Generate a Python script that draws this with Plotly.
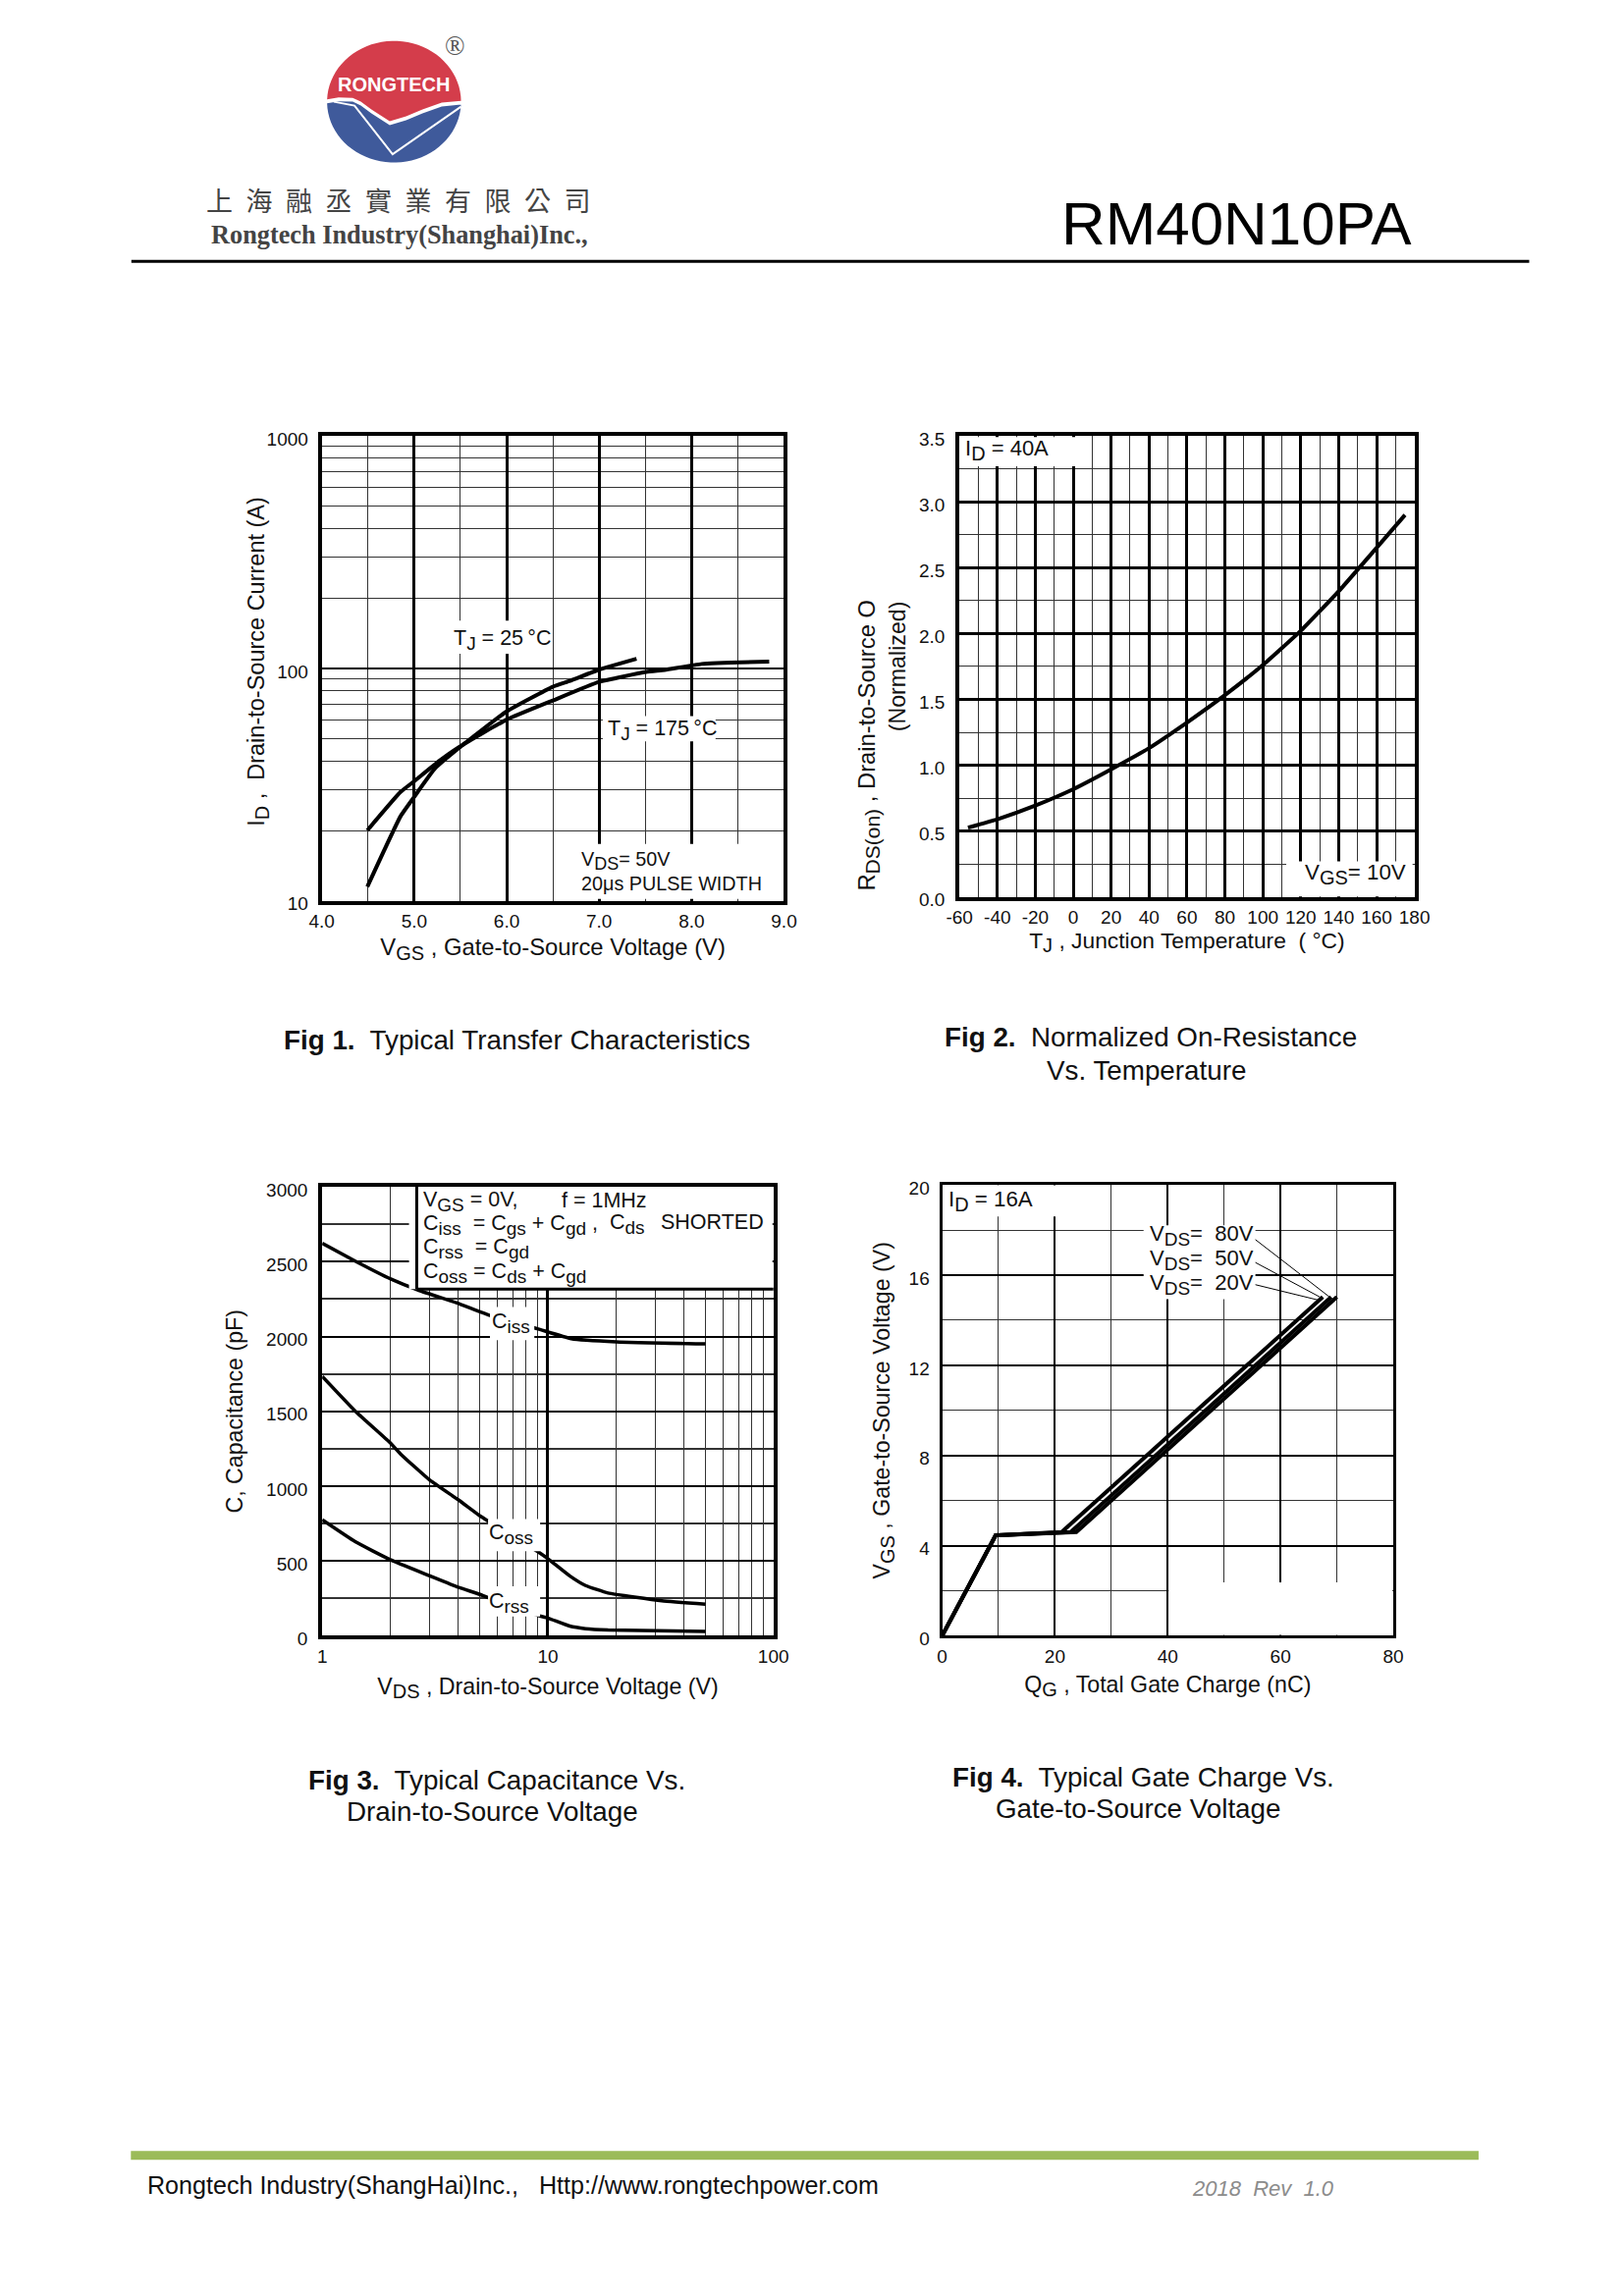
import numpy as np
import plotly.graph_objects as go

W, H = 1653, 2339
YSHIFT = -3.5
FONT = "Liberation Sans"
TEXT = "#111111"

# ---- Fig 1 data
f1_t25_x = [4.493, 4.852, 5.0, 5.222, 5.504, 6.0, 6.5, 6.684, 7.0, 7.405]
f1_t25_y = [11.5, 23.1, 28, 37, 46.1, 65.3, 83.4, 88.4, 98.7, 109.9]
f1_t175_x = [4.493, 4.852, 5.0, 5.275, 5.504, 6.0, 6.5, 7.0, 7.51, 7.71, 8.11, 8.84]
f1_t175_y = [20.1, 29.4, 32.7, 40.1, 46.4, 60.2, 72.8, 87.5, 96.5, 98.5, 104.5, 107]
f1_xticks = [4, 5, 6, 7, 8, 9]
f1_xlabels = ["4.0", "5.0", "6.0", "7.0", "8.0", "9.0"]
f1_xminor = [4.5, 5.5, 6.5, 7.5, 8.5]
f1_yticks = [10, 100, 1000]
f1_yminor = [20, 30, 40, 50, 60, 70, 80, 90, 200, 300, 400, 500, 600, 700, 800, 900]

# ---- Fig 2 data
f2_x = [-55.5, -40, -20, 0, 20, 40, 60, 80, 100, 120, 140, 160, 175]
f2_y = [0.526, 0.59, 0.694, 0.818, 0.969, 1.13, 1.324, 1.532, 1.76, 2.02, 2.32, 2.65, 2.9]
f2_xticks = [-60, -40, -20, 0, 20, 40, 60, 80, 100, 120, 140, 160, 180]
f2_xminor = [-50, -30, -10, 10, 30, 50, 70, 90, 110, 130, 150, 170]
f2_yticks = [0, 0.5, 1, 1.5, 2, 2.5, 3, 3.5]
f2_ylabels = ["0.0", "0.5", "1.0", "1.5", "2.0", "2.5", "3.0", "3.5"]
f2_yminor = [0.25, 0.75, 1.25, 1.75, 2.25, 2.75, 3.25]

# ---- Fig 3 data
f3_ciss_x = [1, 1.414, 2.01, 2.7, 3.93, 5.6, 8.98, 12.7, 20.1, 50]
f3_ciss_y = [2623, 2501, 2385, 2307, 2226, 2139, 2052, 1986, 1965, 1951]
f3_coss_x = [1, 1.403, 2.0, 2.23, 3.0, 4.0, 5.0, 5.55, 9.0, 10, 12.5, 14.7, 18.5, 32, 50]
f3_coss_y = [1733, 1500, 1290, 1214, 1040, 910, 802, 759, 564, 516, 401, 336, 286, 235, 212]
f3_crss_x = [1, 1.4, 2.0, 3.0, 4.0, 5.0, 5.55, 9.0, 10, 12.5, 14.7, 18.5, 50]
f3_crss_y = [775, 629, 509, 401, 325, 277, 249, 137, 119, 65, 48, 39, 29]
f3_xticks = [1, 10, 100]
f3_xminor = [2, 3, 4, 5, 6, 7, 8, 9, 20, 30, 40, 50, 60, 70, 80, 90]
f3_yticks = [0, 500, 1000, 1500, 2000, 2500, 3000]
f3_yminor = [250, 750, 1250, 1750, 2250, 2750]

# ---- Fig 4 data
f4_80_x = [0, 9.5, 21.2, 67.5]
f4_80_y = [0, 4.46, 4.6, 15.03]
f4_50_x = [0, 9.5, 22.8, 69]
f4_50_y = [0, 4.46, 4.6, 15.03]
f4_20_x = [0, 9.5, 23.8, 70]
f4_20_y = [0, 4.46, 4.6, 15.03]
f4_lead80_x = [54.5, 68.7]
f4_lead80_y = [17.78, 15.03]
f4_lead50_x = [54.5, 67.5]
f4_lead50_y = [16.7, 14.96]
f4_lead20_x = [54.5, 66.6]
f4_lead20_y = [15.64, 14.9]
f4_xticks = [0, 20, 40, 60, 80]
f4_xminor = [10, 30, 50, 70]
f4_yticks = [0, 4, 8, 12, 16, 20]
f4_yminor = [2, 6, 10, 14, 18]


def px(x):
    return x / W


def py(y):
    return 1 - (y - YSHIFT) / H


def pt(x, y):
    return f"{px(x):.5f},{py(y):.5f}"


def poly(points, close=True):
    s = "M " + " L ".join(pt(a, b) for a, b in points)
    return s + (" Z" if close else "")


shapes = []
annotations = []


def mask(x0, y0, x1, y1):
    shapes.append(dict(type="rect", xref="paper", yref="paper", x0=px(x0), x1=px(x1),
                       y0=py(y0), y1=py(y1), fillcolor="white", line_width=0, layer="above"))


def hline(x0, x1, y, w, color="black"):
    shapes.append(dict(type="line", xref="paper", yref="paper", x0=px(x0), x1=px(x1),
                       y0=py(y), y1=py(y), line=dict(color=color, width=w), layer="above"))


def vline(x, y0, y1, w, color="black"):
    shapes.append(dict(type="line", xref="paper", yref="paper", x0=px(x), x1=px(x),
                       y0=py(y0), y1=py(y1), line=dict(color=color, width=w), layer="above"))


def text(s, x, y, size=22.3, anchor="left", color=TEXT, family=FONT, angle=0):
    annotations.append(dict(text=s, x=px(x), y=py(y), xref="paper", yref="paper", showarrow=False,
                            xanchor=anchor, yanchor="middle", textangle=angle, borderpad=0,
                            font=dict(size=size, color=color, family=family)))


def S(s, size):
    return f'<sub><span style="font-size:{size:.1f}px">{s}</span></sub>'


def axis(domain, anchor, vals, labels, minor, major_w, minor_w, rng, title, standoff, typ="linear", lw=4,
         tfont=23.2, label_off=0, shift=0):
    d = dict(domain=domain, anchor=anchor, range=rng, type=typ, tickmode="array", tickvals=vals,
             ticktext=labels, showgrid=True, gridcolor="black", gridwidth=major_w, zeroline=False,
             showline=True, linecolor="black", linewidth=lw, mirror=True, ticks="",
             ticklabelstandoff=label_off, ticklabelshift=shift,
             tickfont=dict(size=19, family=FONT, color=TEXT),
             minor=dict(tickmode="array", tickvals=minor, showgrid=True, gridcolor="#333333",
                        gridwidth=minor_w, ticks=""),
             title=dict(text=title, font=dict(size=tfont, family=FONT, color=TEXT), standoff=standoff))
    return d


def frame(x0, x1, y0, y1, lw=4):
    return ([px(x0 + lw / 2), px(x1 - lw / 2)], [py(y1 - lw / 2), py(y0 + lw / 2)])


d1x, d1y = frame(317.5, 801, 435.5, 917.5)
d2x, d2y = frame(979, 1455, 435.5, 913.5)
d3x, d3y = frame(318, 790, 1207.5, 1673)
d4x, d4y = frame(961.5, 1432.5, 1206, 1672.5, lw=3)

layout = dict(
    width=W, height=H, autosize=False, margin=dict(l=0, r=0, t=0, b=0, pad=0),
    paper_bgcolor="white", plot_bgcolor="white", showlegend=False,
    font=dict(family=FONT, color=TEXT),
    xaxis=axis(d1x, "y", f1_xticks, f1_xlabels, f1_xminor, 2.6, 1, [4, 9],
               f"\u00a0V{S('GS', 20)} , Gate-to-Source Voltage (V)", 10, tfont=23.8),
    yaxis=axis(d1y, "x", f1_yticks, [str(v) for v in f1_yticks], f1_yminor, 2, 1, [1, 3],
               "", 0, typ="log", tfont=23.2, label_off=6, shift=3),
    xaxis2=axis(d2x, "y2", f2_xticks, [str(v) for v in f2_xticks], f2_xminor, 2.6, 1.2, [-60, 180],
                f"T{S('J', 20)} , Junction Temperature  ( °C)", 7, label_off=0, tfont=22.8),
    yaxis2=axis(d2y, "x2", f2_yticks, f2_ylabels, f2_yminor, 2.6, 1.2, [0, 3.5],
                "(Normalized)", 8, label_off=7, shift=3),
    xaxis3=axis(d3x, "y3", f3_xticks, [str(v) for v in f3_xticks], f3_xminor, 2.6, 1, [0, 2],
                f"V{S('DS', 20)} , Drain-to-Source Voltage (V)", 13, typ="log", label_off=1),
    yaxis3=axis(d3y, "x3", f3_yticks, [str(v) for v in f3_yticks], f3_yminor, 2, 1.5, [0, 3000],
                "C, Capacitance (pF)", 18, label_off=7, shift=3),
    xaxis4=axis(d4x, "y4", f4_xticks, [str(v) for v in f4_xticks], f4_xminor, 2.4, 1.2, [0, 80],
                f"Q{S('G', 20)} , Total Gate Charge (nC)", 10.5, label_off=2, lw=3),
    yaxis4=axis(d4y, "x4", f4_yticks, [str(v) for v in f4_yticks], f4_yminor, 2.4, 1.2, [0, 20],
                f"V{S('GS', 20)} , Gate-to-Source Voltage (V)", 13, label_off=6, lw=3, shift=3),
)

# ---- Logo
cx, cy, rx, ry = 394.5, 94, 69.5, 62.5
ldx, ldy = -8, -10


def arc(a0, a1, n=40):
    return [(cx + rx * np.cos(t), cy - ry * np.sin(t)) for t in np.linspace(a0, a1, n)]


wave = [(333, 101.7), (345, 99.5), (359.6, 100), (368, 104), (379, 112), (398, 124), (415, 119), (432, 112), (452, 105), (472, 103)]
wave = [(a + ldx, b + ldy) for a, b in wave]
a_l = np.arcsin((cy - wave[0][1]) / ry)
a_r = np.arcsin((cy - wave[-1][1]) / ry)
red = wave + arc(a_r, np.pi - a_l)
blue_top = [(a, b + 4) for a, b in wave]
a_l2 = np.arcsin((cy - blue_top[0][1]) / ry)
a_r2 = np.arcsin((cy - blue_top[-1][1]) / ry)
blue = blue_top + arc(a_r2, -np.pi - a_l2)
shapes.append(dict(type="path", xref="paper", yref="paper", path=poly(blue), fillcolor="#3F5A9B", line_width=0))
shapes.append(dict(type="path", xref="paper", yref="paper", path=poly(red), fillcolor="#D43D4B", line_width=0))
shapes.append(dict(type="path", xref="paper", yref="paper",
                   path=poly([(340 + ldx, 104 + ldy), (361.5 + ldx, 108 + ldy), (401 + ldx, 158 + ldy), (472 + ldx, 109 + ldy)], close=False),
                   line=dict(color="white", width=2)))
text("<b>RONGTECH</b>", 394, 76, size=20, anchor="center", color="white")
text("®", 458, 37, size=27, anchor="center", color="#555555", family="Liberation Serif")
text("上\u2002海\u2002融\u2002丞\u2002實\u2002業\u2002有\u2002限\u2002公\u2002司", 399.5, 194.5, size=27, anchor="center",
     color="#444444", family="Noto Sans CJK TC")
text("<b>Rongtech Industry(Shanghai)Inc.,</b>", 400, 231, size=26.3, anchor="center", color="#444444",
     family="Liberation Serif")
text("RM40N10PA", 1269, 219, size=61.9, anchor="center", color="black")
hline(122, 1572, 258, 3)

# ---- Footer
shapes.append(dict(type="rect", xref="paper", yref="paper", x0=px(121.5), x1=px(1519.5), y0=py(2200.5), y1=py(2209.5),
                   fillcolor="#9BBB59", line_width=0))
text("Rongtech Industry(ShangHai)Inc.,   Http://www.rongtechpower.com", 137.5, 2236, size=25.1)
text("<i>2018  Rev  1.0</i>", 1221.5, 2239.5, size=22, color="#8C8C8C")

# ---- Fig 1 notes
mask(458, 627.5, 556, 661.5)
mask(611, 725.5, 728, 751.5)
mask(582, 857, 797, 913.5)
text(f"T{S('J', 19)} = 25\u2009°C", 507, 647.5, size=21.5, anchor="center")
text(f"T{S('J', 19)} = 175\u2009°C", 672.5, 740, size=21.5, anchor="center")
text(f"V{S('DS', 18)}= 50V", 587.5, 874, size=19.8)
text("20μs PULSE WIDTH", 587.5, 898, size=19.8)
text(f"I{S('D', 20)} ,  Drain-to-Source Current (A)", 254, 669, size=23.5, angle=-90, anchor="center")

# ---- Fig 2 notes
mask(982.5, 438.7, 1115.6, 468.7)
mask(1320, 875, 1451, 911)
text(f"I{S('D', 20)} = 40A", 985.5, 452.5, size=22)
text(f"V{S('GS', 20)}= 10V", 1338, 888.5)
text(f"R{S('DS(on)', 21)} , Drain-to-Source O", 887, 755, size=23.8, angle=-90, anchor="center")

# ---- Fig 3 notes
mask(410, 1209.5, 787, 1314.5)
vline(418, 1207.5, 1314.5, 3)
hline(418, 788, 1314.5, 3)
mask(494, 1333, 540, 1367)
mask(492, 1551, 546, 1584)
mask(492, 1620, 546, 1651)
for s, x, y in [(f"V{S('GS', 19)} = 0V,", 423.5, 1224.5), ("f = 1MHz", 567.7, 1223.5),
                (f"C{S('iss', 19)}  = C{S('gs', 19)} + C{S('gd', 19)} ,", 423.5, 1248.5),
                (f"C{S('ds', 19)}", 617, 1247.5), ("SHORTED", 670, 1245.5),
                (f"C{S('rss', 19)}  = C{S('gd', 19)}", 423.5, 1272.5),
                (f"C{S('oss', 19)} = C{S('ds', 19)} + C{S('gd', 19)}", 423.5, 1298.5),
                (f"C{S('iss', 19)}", 494.5, 1350),
                (f"C{S('oss', 19)}", 491.5, 1566.5), (f"C{S('rss', 19)}", 491.5, 1637)]:
    text(s, x, y, size=21.5)

# ---- Fig 4 notes
mask(964, 1208, 1082, 1240)
mask(1172, 1249, 1288, 1325)
mask(1198, 1616, 1430, 1670)
text(f"I{S('D', 20)} = 16A", 969, 1224)
for s, y in [("80V", 1259), ("50V", 1284.5), ("20V", 1309.5)]:
    text(f"V{S('DS', 19)}=  {s}", 1177.6, y, size=22)

# ---- Captions
CAP = 27.8
text("<b>Fig 1.</b>  Typical Transfer Characteristics", 522, 1058.5, size=CAP, anchor="center")
text("<b>Fig 2.</b>  Normalized On-Resistance", 1179, 1055.5, size=CAP, anchor="center")
text("Vs. Temperature", 1175, 1090, size=CAP, anchor="center")
text("<b>Fig 3.</b>  Typical Capacitance Vs.", 501, 1819, size=CAP, anchor="center")
text("Drain-to-Source Voltage", 497, 1852, size=CAP, anchor="center")
text("<b>Fig 4.</b>  Typical Gate Charge Vs.", 1172, 1816, size=CAP, anchor="center")
text("Gate-to-Source Voltage", 1167, 1849, size=CAP, anchor="center")

fig = go.Figure()


def line(x, y, sub="", w=4, name="", spline=True):
    fig.add_trace(go.Scatter(x=x, y=y, mode="lines", name=name, xaxis="x" + sub, yaxis="y" + sub,
                             line=dict(color="black", width=w, shape="spline" if spline else "linear", smoothing=0.4),
                             hoverinfo="skip"))


line(f1_t25_x, f1_t25_y, name="TJ = 25°C")
line(f1_t175_x, f1_t175_y, name="TJ = 175°C")
line(f2_x, f2_y, "2", name="RDS(on)")
line(f3_ciss_x, f3_ciss_y, "3", name="Ciss", w=3.5)
line(f3_coss_x, f3_coss_y, "3", name="Coss", w=3.5)
line(f3_crss_x, f3_crss_y, "3", name="Crss", w=3.5)
line(f4_80_x, f4_80_y, "4", name="VDS = 80V", spline=False)
line(f4_50_x, f4_50_y, "4", name="VDS = 50V", spline=False)
line(f4_20_x, f4_20_y, "4", name="VDS = 20V", spline=False)
line(f4_lead80_x, f4_lead80_y, "4", w=1, spline=False)
line(f4_lead50_x, f4_lead50_y, "4", w=1, spline=False)
line(f4_lead20_x, f4_lead20_y, "4", w=1, spline=False)

fig.update_layout(**layout, shapes=shapes, annotations=annotations)
fig.write_html("out.html", post_script="document.body.style.margin='0';", config={"displayModeBar": False})
